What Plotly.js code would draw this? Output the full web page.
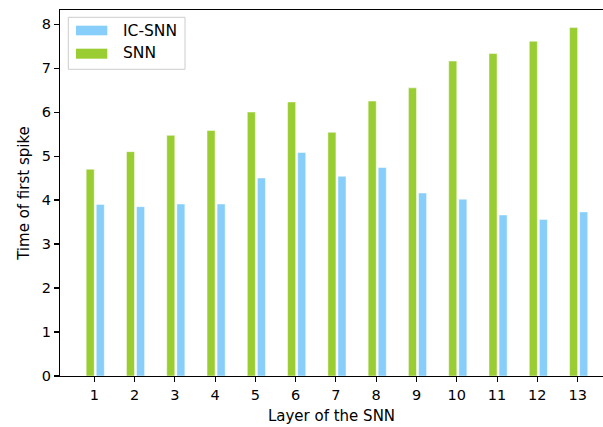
<!DOCTYPE html>
<html>
<head>
<meta charset="utf-8">
<script src="https://cdn.plot.ly/plotly-3.0.1.min.js"></script>
<style>html,body{margin:0;padding:0;background:#fff;}#chart{width:603px;height:427px;}</style>
</head>
<body>
<div id="chart"></div>
<script>
const layers = [1, 2, 3, 4, 5, 6, 7, 8, 9, 10, 11, 12, 13];
const tickLabels = ["1","2","3","4","5","6","7","8","9","10","11","12","13"];
const snn = [4.70, 5.10, 5.47, 5.58, 6.00, 6.23, 5.54, 6.25, 6.55, 7.16, 7.33, 7.61, 7.92];
const icsnn = [3.90, 3.85, 3.91, 3.91, 4.50, 5.08, 4.54, 4.74, 4.16, 4.02, 3.66, 3.56, 3.73];
const seriesNames = ["IC-SNN", "SNN"];
const colors = {"IC-SNN": "#87CEFA", "SNN": "#9ACD32"};

const font = "DejaVu Sans, sans-serif";

const traces = [
  {type: "bar", name: "SNN", x: layers, y: snn, width: 0.2, offset: -0.2,
   marker: {color: colors["SNN"], line: {color: "rgba(255,255,255,0.6)", width: 0.8}}, showlegend: false},
  {type: "bar", name: "IC-SNN", x: layers, y: icsnn, width: 0.2, offset: 0.05,
   marker: {color: colors["IC-SNN"], line: {color: "rgba(255,255,255,0.6)", width: 0.8}}, showlegend: false}
];

// legend drawn manually (matplotlib style wide patches)
const L = 60, T = 10, W = 543, H = 366;
const px = v => (v - L) / W;
const py = v => (T + H - v) / H;
const shapes = [
  {type: "rect", xref: "paper", yref: "paper", x0: px(68.3), x1: px(185), y0: py(69.3), y1: py(17.3),
   line: {color: "#cccccc", width: 1}, fillcolor: "rgba(255,255,255,0.8)"},
  {type: "rect", xref: "paper", yref: "paper", x0: px(76), x1: px(107.3), y0: py(35.3), y1: py(25.7),
   line: {width: 0}, fillcolor: colors[seriesNames[0]]},
  {type: "rect", xref: "paper", yref: "paper", x0: px(76), x1: px(107.3), y0: py(58.7), y1: py(48.7),
   line: {width: 0}, fillcolor: colors[seriesNames[1]]}
];
const annotations = [
  {xref: "paper", yref: "paper", x: px(121), y: py(30.7), xanchor: "left", yanchor: "middle",
   text: seriesNames[0], showarrow: false, font: {family: font, size: 15.5, color: "#000"}},
  {xref: "paper", yref: "paper", x: px(121), y: py(53.3), xanchor: "left", yanchor: "middle",
   text: seriesNames[1], showarrow: false, font: {family: font, size: 15.5, color: "#000"}}
];

const layout = {
  width: 603, height: 427,
  margin: {l: 60, r: 0, t: 10, b: 51, pad: 0},
  paper_bgcolor: "#fff", plot_bgcolor: "#fff",
  barmode: "overlay",
  showlegend: false,
  font: {family: font, color: "#000", size: 14},
  xaxis: {
    range: [0.15, 13.63], tickvals: layers, ticktext: tickLabels,
    showgrid: false, zeroline: false, showline: true, mirror: true,
    linecolor: "#000", linewidth: 1.1,
    ticks: "outside", ticklen: 5, tickwidth: 1.1, tickcolor: "#000",
    tickfont: {family: font, size: 14.5, color: "#000"},
    title: {text: "Layer of the SNN", font: {family: font, size: 15, color: "#000"}, standoff: 9}
  },
  yaxis: {
    range: [0, 8.32], tickvals: [0,1,2,3,4,5,6,7,8],
    showgrid: false, zeroline: false, showline: true, mirror: false,
    linecolor: "#000", linewidth: 1.1,
    ticks: "outside", ticklen: 5, tickwidth: 1.1, tickcolor: "#000",
    tickfont: {family: font, size: 14.5, color: "#000"},
    title: {text: "Time of first spike", font: {family: font, size: 15, color: "#000"}, standoff: 8}
  },
  shapes: shapes,
  annotations: annotations
};

Plotly.newPlot("chart", traces, layout, {staticPlot: true, displayModeBar: false});
</script>
</body>
</html>
